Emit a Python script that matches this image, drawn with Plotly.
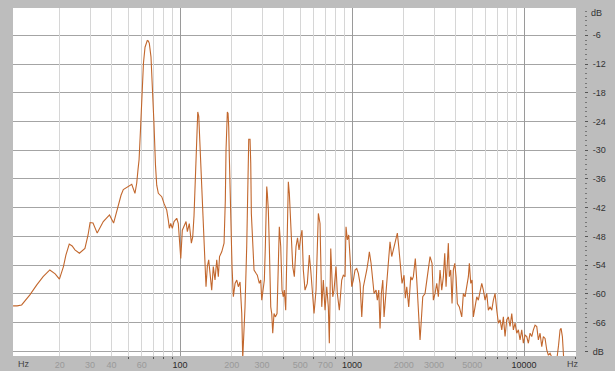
import plotly.graph_objects as go

# ---- data ----
freq_hz = [
    10.7, 11.3, 12.0, 13.4, 14.7, 16.0, 17.5, 18.8, 19.9, 21.0, 21.7, 22.7, 23.6, 24.5,
    26.0, 28.0, 29.2, 30.0, 31.2, 33.0, 35.8, 38.9, 41.1, 43.8, 45.4, 46.8, 50.0, 52.4,
    54.7, 56.0, 57.0, 57.8, 58.9, 60.1, 61.3, 62.6, 63.6, 64.5, 65.4, 66.3, 67.8, 69.2,
    70.6, 72.0, 73.2, 74.8, 78.3, 80.7, 83.7, 85.5, 86.7, 88.3, 90.2, 92.3, 95.7, 97.7,
    99.1, 101, 103.1, 105.5, 108.4, 110.3, 113.2, 116.4, 118.5, 120.6, 122.7, 124.4,
    126.8, 128.5, 129.9, 131.6, 133.4, 135.5, 137.9, 139.7, 141.6, 144.1, 146.8, 149.4,
    152.8, 156.1, 159.7, 163.5, 167.0, 169.7, 174.8, 180.3, 183.4, 185.1, 186.9, 188.4,
    190.2, 191.9, 193.5, 195.3, 197.9, 200.6, 204.2, 208.9, 213.7, 218.3, 223.3, 228.5,
    231.5, 233.9, 238.7, 244.2, 248.5, 250.9, 255.3, 257.7, 259.8, 264.7, 269.3, 276.6,
    281.4, 289.1, 294.6, 298.6, 305.1, 309.2, 313.3, 316.2, 319.2, 321.8, 326.1, 330.5,
    333.7, 336.8, 341.3, 345.9, 351.9, 358.1, 366.4, 371.3, 377.8, 385.0, 391.7, 398.6,
    404.0, 411.6, 417.2, 422.8, 426.3, 432.0, 440.2, 452.1, 461.9, 472.5, 482.1, 491.9,
    503.1, 512.0, 521.0, 532.9, 549.6, 564.5, 575.3, 590.9, 601.3, 617.6, 628.5, 637.0,
    651.6, 666.6, 680.9, 696.6, 712.6, 728.0, 737.9, 751.9, 772.3, 785.8, 807.2, 821.3,
    843.6, 871.0, 889.9, 910.4, 922.7, 939.0, 956.7, 973.3, 996, 1018, 1041, 1065, 1088,
    1113, 1139, 1164, 1190, 1218, 1244, 1261, 1290, 1319, 1343, 1379, 1403, 1430, 1455,
    1480, 1509, 1535, 1577, 1604, 1641, 1663, 1701, 1754, 1802, 1834, 1868, 1901, 1953,
    2006, 2041, 2080, 2136, 2194, 2233, 2272, 2333, 2378, 2429, 2485, 2529, 2577, 2657,
    2718, 2792, 2841, 2918, 2970, 3038, 3108, 3175, 3248, 3323, 3395, 3459, 3520, 3581,
    3630, 3679, 3748, 3814, 3881, 3955, 4024, 4095, 4206, 4343, 4437, 4539, 4644, 4745,
    4808, 4899, 4986, 5073, 5190, 5309, 5424, 5549, 5677, 5800, 5934, 6070, 6202, 6345,
    6491, 6632, 6785, 6941, 7091, 7255, 7420, 7581, 7754, 7933, 8105, 8291, 8482, 8666,
    8866, 9070, 9267, 9479, 9697, 9907, 10134, 10368, 10593, 10837, 11087, 11327, 11588,
    11854, 12112, 12390, 12675, 12950, 13248, 13553, 13847, 14166, 14492, 14748, 15346,
    15874, 16195, 16413, 16703, 16928, 17089, 20000,
]
level_db = [
    -62.5, -62.5, -62.3, -60.2, -58.1, -56.4, -55.0, -55.8, -56.9, -54.3, -51.9, -49.6, -50.0, -50.8,
    -51.5, -50.5, -47.7, -45.1, -45.2, -47.3, -44.9, -43.5, -45.2, -41.1, -39.4, -38.2, -37.5, -37.1,
    -39.0, -36.9, -34.0, -32.0, -25.8, -18.5, -11.8, -8.5, -7.4, -7.1, -7.2, -7.7, -10.5, -16.4,
    -24.7, -33.1, -37.3, -39.0, -39.7, -41.1, -42.5, -44.6, -46.3, -45.3, -46.3, -44.9, -44.2, -45.3,
    -49.4, -52.6, -46.7, -46.0, -44.9, -47.0, -45.3, -49.4, -48.1, -43.7, -36.2, -27.9,
    -22.0, -22.9, -26.8, -33.1, -39.6, -44.6, -50.1, -55.7, -58.5, -54.3, -52.9, -55.7,
    -59.2, -54.3, -57.1, -52.9, -56.4, -52.2, -51.2, -49.4, -40.4, -30.0, -23.7, -22.0,
    -22.3, -25.1, -31.4, -37.6, -44.6, -54.3, -60.6, -57.8, -57.1, -58.5, -57.5, -64.1,
    -73.5, -69.6, -62.7, -50.1, -36.2, -27.7, -27.7, -32.7, -43.2, -50.1, -55.0, -55.7,
    -56.1, -57.8, -57.1, -61.3, -59.2, -57.1, -50.1, -41.8, -37.6, -39.0, -42.5, -50.1,
    -57.1, -62.7, -64.1, -68.2, -64.1, -64.8, -64.1, -57.1, -46.0, -50.1, -59.2, -60.6,
    -59.2, -63.4, -53.6, -41.8, -36.6, -39.0, -45.3, -54.3, -56.4, -50.1, -48.3, -50.8,
    -48.1, -46.7, -55.0, -59.2, -57.8, -51.9, -55.0, -61.3, -64.1, -59.2, -48.7, -43.2,
    -45.3, -62.7, -57.1, -63.4, -58.5, -62.7, -70.3, -50.5, -60.6, -59.2, -54.3, -59.9,
    -63.4, -57.1, -56.1, -56.4, -46.0, -48.7, -47.7, -52.2, -58.5, -57.1, -55.0, -54.7, -55.7,
    -57.8, -64.8, -58.5, -57.1, -55.0, -52.9, -51.2, -53.6, -57.8, -59.9, -59.2, -61.3, -59.2, -67.2,
    -59.9, -57.1, -64.8, -59.2, -57.1, -51.5, -49.1, -52.2, -50.1, -48.4, -47.3, -50.1, -53.6, -57.8,
    -56.1, -60.9, -58.5, -62.7, -56.4, -57.1, -56.4, -52.6, -57.1, -63.4, -69.6, -65.4, -60.6, -59.9,
    -57.1, -54.3, -52.2, -53.6, -61.3, -59.9, -57.8, -60.6, -55.0, -59.2, -56.4, -51.5, -58.5, -53.6,
    -49.4, -56.4, -55.0, -62.0, -55.0, -53.6, -56.4, -62.0, -62.7, -64.8, -59.9, -60.6, -58.5, -56.4,
    -53.6, -57.8, -57.1, -64.8, -62.7, -60.6, -61.3, -59.2, -57.8, -59.2, -61.3, -59.9, -63.4, -62.7,
    -63.4, -61.3, -59.9, -63.4, -66.1, -65.4, -67.5, -64.8, -68.9, -65.4, -64.8, -66.8, -64.1, -67.5,
    -66.1, -68.2, -67.5, -69.6, -67.5, -70.3, -68.6, -68.9, -70.3, -68.2, -68.9, -67.5, -66.5,
    -66.8, -69.6, -68.2, -71.0, -68.9, -69.3, -71.7, -72.8, -72.4, -73.2, -75.0, -75.0,
    -70.7, -67.5, -67.2, -68.9, -72.4, -75.0, -78.0,
]

# ---- axis ticks / labels ----
x_label_vals = [20, 30, 40, 60, 100, 200, 300, 500, 700, 1000, 2000, 3000, 5000, 10000]
x_label_text = ["20", "30", "40", "60", "100", "200", "300", "500", "700",
                "1000", "2000", "3000", "5000", "10000"]
x_decade_vals = [100, 1000, 10000]
x_minor_grid_vals = [20, 30, 40, 50, 60, 70, 80, 90,
                     200, 300, 400, 500, 600, 700, 800, 900,
                     2000, 3000, 4000, 5000, 6000, 7000, 8000, 9000, 20000]
x_small_tick_vals = [50, 70, 80, 90, 400, 600, 800, 900,
                     4000, 6000, 7000, 8000, 9000, 20000]
y_grid_vals = [-72, -66, -60, -54, -48, -42, -36, -30, -24, -18, -12, -6]
y_label_vals = [-72, -66, -60, -54, -48, -42, -36, -30, -24, -18, -12, -6]
y_label_text = ["dB", "-66", "-60", "-54", "-48", "-42", "-36", "-30", "-24", "-18", "-12", "-6"]

BG = "#bdbdbd"
LINE = "#c2672d"
FONT = "Liberation Sans, Arial, sans-serif"

decade_set = set(x_decade_vals)
tick_text_styled = [
    (f"<span style='color:#2b2b2b'>{t}</span>" if v in decade_set
     else f"<span style='color:#999999'>{t}</span>")
    for v, t in zip(x_label_vals, x_label_text)
]

XR = [1.029, 4.302]
YR = [-72.96, -0.31]

fig = go.Figure()
fig.add_trace(go.Scatter(x=freq_hz, y=level_db, mode="lines",
                         line=dict(color=LINE, width=1.1),
                         hoverinfo="skip", showlegend=False, cliponaxis=True))
# empty traces so the overlay axes get their own subplots
fig.add_trace(go.Scatter(x=[], y=[], xaxis="x2", yaxis="y", showlegend=False))
fig.add_trace(go.Scatter(x=[], y=[], xaxis="x3", yaxis="y", showlegend=False))
fig.add_trace(go.Scatter(x=[], y=[], xaxis="x4", yaxis="y", showlegend=False))
fig.add_trace(go.Scatter(x=[], y=[], xaxis="x", yaxis="y2", showlegend=False))

dom = [0, 563 / 571]

fig.update_layout(
    width=615, height=371,
    margin=dict(l=13, r=31, t=8, b=15, pad=0, autoexpand=False),
    paper_bgcolor=BG, plot_bgcolor=BG,
    showlegend=False,
    font=dict(family=FONT, size=9, color="#333333"),
    xaxis=dict(type="log", range=XR, domain=dom, anchor="y", automargin=False,
               tickvals=x_label_vals, ticktext=tick_text_styled,
               showgrid=False, zeroline=False, showline=False, ticks="",
               tickfont=dict(size=9), ticklabelstandoff=2),
    xaxis2=dict(type="log", range=XR, domain=dom, anchor="y", overlaying="x",
                automargin=False,
                tickvals=x_minor_grid_vals, showticklabels=False,
                showgrid=True, gridcolor="#d6d6d6", gridwidth=1,
                zeroline=False, showline=False, ticks=""),
    xaxis3=dict(type="log", range=XR, domain=dom, anchor="y", overlaying="x",
                automargin=False,
                tickvals=x_decade_vals, showticklabels=False,
                showgrid=True, gridcolor="#9a9a9a", gridwidth=1,
                zeroline=False, showline=False, ticks=""),
    xaxis4=dict(type="log", range=XR, domain=dom, anchor="y", overlaying="x",
                automargin=False,
                tickvals=x_small_tick_vals, showticklabels=False,
                showgrid=False, zeroline=False, showline=False,
                ticks="outside", ticklen=2, tickcolor="#555555", tickwidth=1),
    yaxis=dict(range=YR, anchor="x", side="right", automargin=False,
               tickvals=y_grid_vals, showticklabels=False,
               showgrid=True, gridcolor="#a4a4a4", gridwidth=1,
               zeroline=False, showline=False, ticks=""),
    yaxis2=dict(range=YR, overlaying="y", anchor="free", position=1, side="right",
                automargin=False,
                tickvals=y_label_vals, ticktext=y_label_text,
                showgrid=False, zeroline=False, showline=False,
                ticks="outside", ticklen=3, tickcolor="#555555", tickwidth=1,
                minor=dict(dtick=1, ticks="outside", ticklen=2, tickcolor="#777777"),
                tickfont=dict(size=9, color="#333333"), ticklabelstandoff=3),
    shapes=[dict(type="rect", xref="x domain", yref="y domain",
                 x0=0, x1=1, y0=0, y1=1, fillcolor="white",
                 line=dict(width=0), layer="below")],
    annotations=[
        dict(text="Hz", xref="paper", yref="paper", x=0.019, y=-0.022,
             xanchor="center", yanchor="middle", showarrow=False,
             font=dict(size=9, color="#444444")),
        dict(text="Hz", xref="paper", yref="paper", x=0.981, y=-0.022,
             xanchor="center", yanchor="middle", showarrow=False,
             font=dict(size=9, color="#444444")),
        dict(text="dB", xref="paper", yref="paper", x=1.0, y=0.986,
             xanchor="left", yanchor="middle", xshift=5, showarrow=False,
             font=dict(size=9, color="#333333")),
    ],
)

fig.write_html("out.html",
               config={"displayModeBar": False},
               post_script="document.body.style.margin='0px';document.body.style.overflow='hidden';")
